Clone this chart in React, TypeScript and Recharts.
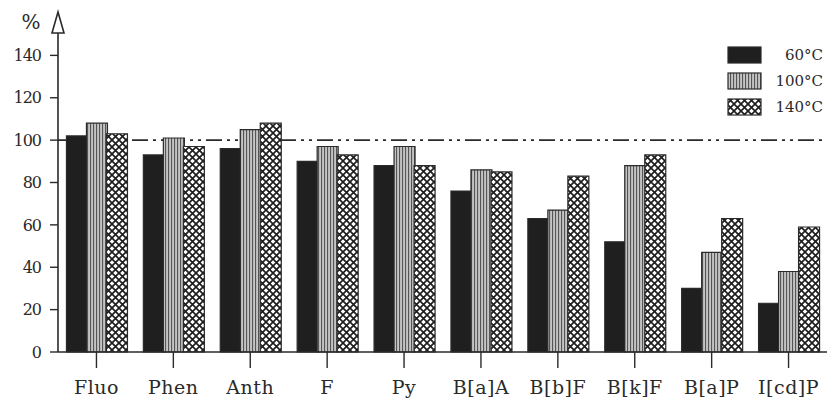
import React from "react";
import {
  BarChart,
  Bar,
  XAxis,
  YAxis,
  CartesianGrid,
  Legend,
} from "recharts";

const compounds = ["Fluo", "Phen", "Anth", "F", "Py", "B[a]A", "B[b]F", "B[k]F", "B[a]P", "I[cd]P"];
const seriesNames = ["60°C", "100°C", "140°C"];
const t60 = [102, 93, 96, 90, 88, 76, 63, 52, 30, 23];
const t100 = [108, 101, 105, 97, 97, 86, 67, 88, 47, 38];
const t140 = [103, 97, 108, 93, 88, 85, 83, 93, 63, 59];
const yTicks = [0, 20, 40, 60, 80, 100, 120, 140];

const data = compounds.map((name, i) => ({
  name,
  t60: t60[i],
  t100: t100[i],
  t140: t140[i],
}));

const serif = "'DejaVu Serif', serif";
const ink = "#2a2a2a";

const AxisArrow = (props: any) => {
  const vb = props.viewBox || {};
  const ax = (vb.x || 0) + (vb.width || 0);
  const top = (vb.y || 0) - 1;
  return (
    <g>
      <polygon
        points={`${ax},${top} ${ax - 6},${top + 21} ${ax + 6},${top + 21}`}
        fill="#fff"
        stroke={ink}
        strokeWidth={1.6}
      />
      <text x={31} y={top + 17} textAnchor="middle" fontFamily={serif} fontSize={20} fill={ink}>
        %
      </text>
    </g>
  );
};

// legend keeps the series order, not the alphabetical one
const LegendBox = (props: any) => {
  const items = [...(props.payload || [])].sort(
    (a: any, b: any) => seriesNames.indexOf(a.value) - seriesNames.indexOf(b.value)
  );
  return (
    <div style={{ width: 96 }}>
      {items.map((it: any) => (
        <div key={it.value} style={{ display: "flex", alignItems: "center", height: 26 }}>
          <svg width={36} height={20}>
            <rect x={1} y={2} width={33} height={16} fill={it.color} stroke={ink} strokeWidth={1.2} />
          </svg>
          <span
            style={{
              flex: 1,
              textAlign: "right",
              fontFamily: serif,
              fontSize: 15,
              color: ink,
            }}
          >
            {it.value}
          </span>
        </div>
      ))}
    </div>
  );
};

export default function App() {
  return (
    <div style={{ position: "absolute", left: 0, top: 0, background: "#fff" }}>
      <BarChart
        width={827}
        height={398}
        data={data}
        margin={{ top: 13, right: 0, bottom: 0, left: 0 }}
        barCategoryGap="11%"
        barGap={-1}
      >
        <defs>
          <pattern id="stripes" width="3" height="6" patternUnits="userSpaceOnUse">
            <rect width="3" height="6" fill="#c4c4c4" />
            <rect x="0" width="1.1" height="6" fill="#555" />
          </pattern>
          <pattern id="cross" width="7" height="7" patternUnits="userSpaceOnUse">
            <rect width="7" height="7" fill="#fff" />
            <path d="M0,0 L7,7 M7,0 L0,7" stroke="#1e1e1e" strokeWidth={1.7} />
          </pattern>
        </defs>
        <CartesianGrid
          vertical={false}
          horizontalValues={[100]}
          stroke={ink}
          strokeWidth={1.8}
          strokeDasharray="16 5 3 5 3 5"
        />
        <XAxis
          dataKey="name"
          axisLine={{ stroke: ink, strokeWidth: 1.6 }}
          tickLine={{ stroke: ink, strokeWidth: 1.4 }}
          tickSize={16}
          tickMargin={13}
          height={46}
          interval={0}
          tick={{ fontFamily: serif, fontSize: 19, fill: ink, letterSpacing: 0.5 }}
        />
        <YAxis
          domain={[0, 160]}
          ticks={yTicks}
          width={58}
          axisLine={{ stroke: ink, strokeWidth: 1.6 }}
          tickLine={{ stroke: ink, strokeWidth: 1.4 }}
          tickSize={8}
          tickMargin={9}
          tick={{ fontFamily: serif, fontSize: 16, fill: ink, letterSpacing: -1 }}
          label={{ content: AxisArrow }}
        />
        <Legend
          layout="vertical"
          align="right"
          verticalAlign="top"
          content={LegendBox}
          wrapperStyle={{ top: 42, left: 727, width: 0, height: 0, overflow: "visible" }}
        />
        <Bar dataKey="t60" name="60°C" fill="#1f1f1f" stroke={ink} strokeWidth={1.2} isAnimationActive={false} />
        <Bar dataKey="t100" name="100°C" fill="url(#stripes)" stroke={ink} strokeWidth={1.2} isAnimationActive={false} />
        <Bar dataKey="t140" name="140°C" fill="url(#cross)" stroke={ink} strokeWidth={1.2} isAnimationActive={false} />
      </BarChart>
    </div>
  );
}
